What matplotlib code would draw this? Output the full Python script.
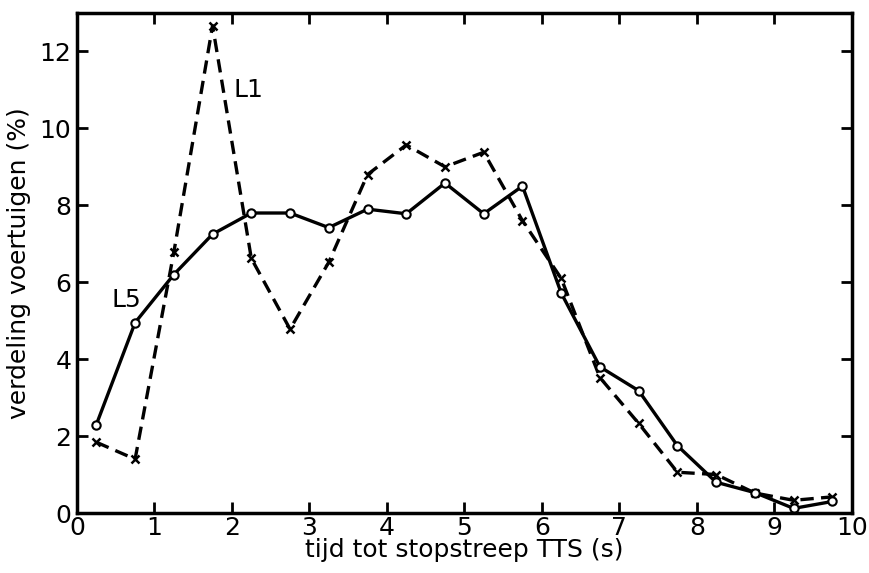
import numpy as np
import matplotlib.pyplot as plt

tijd = np.arange(0.25, 10, 0.5)

L5 = [2.3, 4.95, 6.2, 7.25, 7.8, 7.8, 7.42, 7.9, 7.78, 8.58, 7.78, 8.5,
      5.72, 3.8, 3.18, 1.75, 0.8, 0.53, 0.12, 0.3]
L1 = [1.84, 1.4, 6.78, 12.67, 6.62, 4.78, 6.52, 8.8, 9.57, 9.0, 9.38, 7.6,
      6.1, 3.52, 2.33, 1.06, 1.0, 0.52, 0.33, 0.42]

plt.rcParams['font.family'] = 'DejaVu Sans'

fig = plt.figure(figsize=(8.7, 5.73), dpi=100)
ax = fig.add_axes([0.0885, 0.1047, 0.8905, 0.8726])

ax.plot(tijd, L1, color='black', linestyle=(0, (4, 2.2)), linewidth=2.4,
        marker='x', markersize=6, markeredgewidth=1.8)
ax.plot(tijd, L5, color='black', linestyle='-', linewidth=2.4,
        marker='o', markersize=6, markerfacecolor='white',
        markeredgecolor='black', markeredgewidth=1.5)

ax.text(2.02, 11.0, 'L1', fontsize=18, va='center', ha='left')
ax.text(0.45, 5.55, 'L5', fontsize=18, va='center', ha='left')

ax.set_xlim(0, 10)
ax.set_ylim(0, 13)
ax.set_xticks(range(0, 11))
ax.set_yticks(range(0, 13, 2))
ax.tick_params(direction='in', length=8, width=2, labelsize=18,
               top=True, right=True)
ax.tick_params(axis='x', pad=2)
ax.tick_params(axis='y', pad=4)
for s in ax.spines.values():
    s.set_linewidth(2.5)

ax.set_xlabel('tijd tot stopstreep TTS (s)', fontsize=18, labelpad=-1)
ax.set_ylabel('verdeling voertuigen (%)', fontsize=18, labelpad=6)

plt.savefig('out.png', dpi=100)
